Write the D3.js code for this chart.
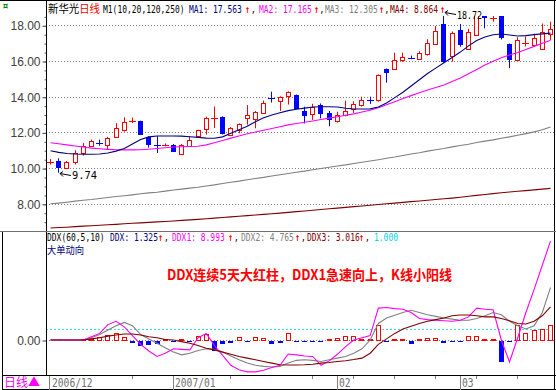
<!DOCTYPE html>
<html lang="zh">
<head>
<meta charset="utf-8">
<title>新华光 日线</title>
<script src="https://cdn.jsdelivr.net/npm/d3@7"></script>
<style>
	body { margin: 0; padding: 0; background: #fff; }
	svg text { font-family: "DejaVu Sans Mono", "Noto Sans CJK SC", monospace; }
	.cjk { font-family: "Noto Sans CJK SC", sans-serif; }
	.num { font-family: "Liberation Sans", Arial, sans-serif; }
</style>
</head>
<body>
<div id="chart"></div>
<script>

// price data, one value per trading day
var open = [10.33,10.40,10.00,10.36,10.85,11.25,11.44,11.25,11.72,12.13,
	12.63,12.64,11.76,11.30,11.29,11.30,10.80,11.25,11.78,12.15,
	12.78,12.88,11.85,12.13,12.80,12.75,13.10,13.98,13.78,14.05,
	14.10,13.22,13.03,13.53,13.07,12.65,12.97,13.30,13.53,13.84,
	13.82,15.55,15.53,16.06,16.22,16.10,16.39,16.99,18.10,16.24,
	17.74,16.70,17.46,18.58,18.38,18.63,16.97,16.06,16.98,16.90,
	16.71,17.51];
var high = [10.50,10.55,10.40,11.00,11.40,11.60,11.60,11.75,12.52,12.85,
	12.83,12.66,11.80,11.80,11.38,11.35,11.35,11.78,12.15,12.88,
	13.45,12.90,12.30,12.50,13.53,13.20,13.78,14.28,14.02,14.30,
	14.12,13.44,13.60,13.62,13.20,13.15,13.78,13.75,14.00,14.00,
	15.25,15.58,16.47,16.47,16.30,16.55,17.22,17.96,18.72,17.65,
	18.07,17.80,18.67,18.62,18.67,18.70,16.98,17.33,17.38,17.53,
	18.10,18.20];
var low = [10.20,9.74,9.95,10.20,10.70,11.20,11.25,11.05,11.70,12.05,
	12.52,11.85,11.15,10.85,11.22,10.90,10.75,11.20,11.70,11.88,
	12.25,11.88,11.80,11.95,12.43,12.23,13.05,13.67,13.20,13.56,
	13.30,12.50,12.70,12.79,12.34,12.55,12.90,13.10,13.45,13.60,
	13.72,14.79,15.50,15.95,16.10,16.05,16.30,16.90,15.90,15.96,
	16.80,16.68,17.40,17.83,18.20,17.20,15.60,16.00,16.82,16.82,
	16.65,17.18];
var close = [10.35,10.00,10.36,10.85,11.25,11.52,11.40,11.67,12.23,12.60,
	12.65,11.86,11.30,11.27,11.31,10.92,11.30,11.57,12.13,12.78,
	12.80,11.90,12.27,12.45,12.97,13.15,13.67,13.94,14.00,14.28,
	13.30,12.95,13.44,13.03,12.70,12.97,13.22,13.60,13.82,13.80,
	15.22,15.35,16.05,16.24,16.18,16.43,17.03,17.70,15.96,17.55,
	16.90,17.64,18.58,18.39,18.40,17.27,16.06,17.20,17.00,17.27,
	17.64,17.78];

// moving averages M1(10,20,120,250)
var ma1 = [10.97,10.88,10.82,10.79,10.78,10.78,10.79,10.85,10.95,11.10,
	11.35,11.60,11.75,11.80,11.80,11.80,11.79,11.76,11.72,11.68,
	11.67,11.75,11.95,12.15,12.35,12.60,12.82,12.98,13.10,13.22,
	13.30,13.36,13.42,13.44,13.44,13.42,13.35,13.31,13.31,13.32,
	13.42,13.65,13.95,14.25,14.60,14.95,15.30,15.60,15.90,16.20,
	16.50,16.85,17.15,17.35,17.47,17.51,17.46,17.40,17.42,17.48,
	17.52,17.563];
var ma2 = [11.42,11.36,11.30,11.24,11.18,11.12,11.08,11.05,11.03,11.02,
	11.02,11.03,11.06,11.10,11.14,11.18,11.20,11.21,11.22,11.30,
	11.42,11.55,11.68,11.80,11.92,12.02,12.12,12.22,12.32,12.42,
	12.50,12.57,12.64,12.72,12.80,12.88,12.96,13.04,13.14,13.24,
	13.38,13.55,13.72,13.90,14.06,14.22,14.38,14.52,14.66,14.85,
	15.05,15.28,15.52,15.78,15.98,16.18,16.34,16.48,16.64,16.82,
	17.00,17.165];
var ma3 = [8.00,8.04,8.09,8.15,8.20,8.24,8.30,8.35,8.41,8.45,
	8.50,8.56,8.61,8.65,8.71,8.77,8.82,8.88,8.93,9.00,
	9.06,9.14,9.21,9.27,9.35,9.42,9.48,9.56,9.63,9.70,
	9.77,9.83,9.91,9.98,10.05,10.12,10.18,10.26,10.33,10.40,
	10.47,10.55,10.62,10.71,10.79,10.86,10.95,11.03,11.10,11.19,
	11.27,11.34,11.43,11.51,11.58,11.67,11.75,11.84,11.93,12.03,
	12.15,12.305];
var ma4 = [6.64,6.67,6.69,6.72,6.75,6.77,6.80,6.83,6.85,6.88,
	6.91,6.93,6.96,6.99,7.01,7.04,7.07,7.10,7.13,7.16,
	7.20,7.23,7.27,7.30,7.34,7.37,7.41,7.44,7.48,7.52,
	7.56,7.60,7.64,7.68,7.72,7.76,7.80,7.84,7.88,7.92,
	7.96,8.00,8.04,8.08,8.12,8.16,8.20,8.24,8.28,8.32,
	8.37,8.42,8.47,8.52,8.57,8.62,8.66,8.70,8.74,8.78,
	8.82,8.864];

// DDX(60,5,10) indicator
var ddx = [0,0,0,0,0.05,0.1,0.25,0.45,0.6,0.3,
	-0.3,-0.55,-0.45,-0.36,0.08,-0.1,0.1,-0.2,0.35,0.55,
	-0.97,-0.35,-0.25,0.25,-0.15,0.25,0.2,-0.35,-0.3,0.65,
	-0.05,-0.05,-0.05,-0.05,0.05,0.2,0.35,0.35,0.05,0.05,
	1.4,-0.05,0.05,0.05,-0.35,0.05,0.2,0.2,-0.25,-0.05,
	-0.05,0.4,0.4,0.05,0.05,-2.0,-0.05,1.35,0.65,0.95,
	1.0,1.325];
var ddx1 = [0,0,0,0,0,0.3,0.6,1.4,1.7,1.2,
	0.4,-0.4,-1.0,-1.5,-1.2,-0.8,-0.85,-0.9,0.2,0.6,
	-0.5,-1.4,-2.3,-2.7,-2.9,-2.9,-2.75,-2.5,-2.3,-1.27,
	-1.35,-1.45,-1.5,-2.3,-1.9,-1.3,-0.6,0.0,0.2,0.4,
	2.9,2.95,2.85,2.8,2.5,1.95,1.85,1.8,1.75,1.7,
	1.8,2.1,2.9,2.8,2.75,0.0,-2.0,0.2,2.5,4.6,
	6.8,8.993];
var ddx2 = [0,0,0,0,0,0.2,0.5,0.9,1.3,1.6,
	1.3,0.5,0.1,-0.3,-0.7,-1.1,-1.35,-1.2,-0.95,-0.8,
	-0.85,-1.1,-1.45,-1.8,-2.1,-2.3,-2.4,-2.45,-2.4,-2.1,
	-1.85,-1.8,-1.85,-1.95,-1.8,-1.65,-1.5,-1.2,-0.8,0.0,
	1.5,2.0,2.25,2.5,2.7,2.5,2.3,2.15,2.0,1.9,
	1.8,1.8,1.95,2.2,2.5,2.3,1.7,1.3,1.0,1.3,
	2.5,4.765];
var ddx3 = [0,0,0,0,0,0.1,0.2,0.35,0.45,0.55,
	0.55,0.45,0.3,0.2,0.05,0.0,-0.15,-0.3,-0.5,-0.75,
	-0.9,-1.1,-1.3,-1.5,-1.65,-1.8,-1.95,-2.1,-2.25,-2.27,
	-2.27,-2.25,-2.2,-2.1,-2.05,-1.95,-1.88,-1.78,-1.65,-1.2,
	-0.4,0.1,0.6,1.0,1.25,1.5,1.7,1.85,2.0,2.2,
	2.27,2.27,2.2,2.1,2.1,1.95,1.75,1.5,1.45,1.7,
	2.2,3.016];
var ddxLevel = 1.0;

// axis
var priceTicks = [8, 10, 12, 14, 16, 18];
var monthLabels = ["2006/12", "2007/01", "02", "03"];
var monthStart = [0, 15, 35, 50];
var weekTicks = [10, 22, 32, 37, 42, 47, 52, 57];
var highIdx = 48, lowIdx = 1;

// colours
var cUp = "#ff0000", cDown = "#0000ff";
var cMa = ["#000080", "#ff00ff", "#808080", "#800000"];
var cDdx = ["#000080", "#ff00ff", "#808080", "#800000"];

var W = 556, H = 390;
var axisX = 46;

var svg = d3.select("#chart").append("svg")
	.attr("width", W).attr("height", H);
svg.append("rect").attr("width", W).attr("height", H).attr("fill", "#fff");

var idx = d3.range(open.length);
var x = d3.scaleLinear().domain([0, open.length - 1]).range([50, 550]);
var yTop = d3.scaleLinear().domain([8, 18]).range([203.8, 25.3]);
var yBot = d3.scaleLinear().domain([0, 1]).range([340, 329]);
var cx = function (i) { return Math.round(x(i)); };

var defs = svg.append("defs");
defs.append("clipPath").attr("id", "clipTop").append("rect")
	.attr("x", axisX + 1).attr("y", 16).attr("width", W - axisX - 3).attr("height", 215);
defs.append("clipPath").attr("id", "clipBot").append("rect")
	.attr("x", axisX + 1).attr("y", 233).attr("width", W - axisX - 3).attr("height", 142);

// grid lines
svg.append("g").selectAll("line").data(priceTicks).join("line")
	.attr("x1", axisX).attr("x2", W - 2)
	.attr("y1", function (d) { return Math.round(yTop(d)) + 0.5; })
	.attr("y2", function (d) { return Math.round(yTop(d)) + 0.5; })
	.attr("stroke", "#808080").attr("stroke-dasharray", "1,2");
svg.append("line")
	.attr("x1", axisX).attr("x2", W - 2)
	.attr("y1", Math.round(yBot(0)) + 0.5).attr("y2", Math.round(yBot(0)) + 0.5)
	.attr("stroke", "#808080").attr("stroke-dasharray", "1,2");
svg.append("line")
	.attr("x1", axisX).attr("x2", W - 2)
	.attr("y1", Math.round(yBot(ddxLevel)) + 0.5).attr("y2", Math.round(yBot(ddxLevel)) + 0.5)
	.attr("stroke", "#30e0e0").attr("stroke-dasharray", "2,2");

// left axes
var axTop = svg.append("g").attr("class", "num")
	.attr("transform", "translate(" + (axisX + 0.5) + ",0.5)")
	.call(d3.axisLeft(yTop).tickValues(priceTicks).tickSize(4).tickPadding(2)
		.tickFormat(d3.format(".2f")));
svg.append("g").attr("transform", "translate(" + (axisX + 0.5) + ",0.5)")
	.call(d3.axisLeft(yTop).tickValues(d3.range(6.5, 18.6, 0.5)).tickSize(2).tickFormat(""))
	.call(function (g) { g.select(".domain").remove(); g.selectAll("line").attr("stroke", "#606060"); });
var axBot = svg.append("g").attr("class", "num")
	.attr("transform", "translate(" + (axisX + 0.5) + ",0.5)")
	.call(d3.axisLeft(yBot).tickValues([0]).tickSize(4).tickPadding(2)
		.tickFormat(d3.format(".2f")));
[axTop, axBot].forEach(function (g) {
	g.select(".domain").remove();
	g.selectAll("text").attr("fill", "#404040").style("font-size", "12px")
		.style("font-family", "'Liberation Sans', Arial, sans-serif");
	g.selectAll("line").attr("stroke", "#404040");
});

// candles
var gc = svg.append("g").attr("clip-path", "url(#clipTop)");
var isUp = function (i) { return close[i] >= open[i]; };
var bodyPx = function (i) { return Math.abs(yTop(open[i]) - yTop(close[i])); };

gc.selectAll("line.wick").data(idx).join("line")
	.attr("class", "wick")
	.attr("x1", function (i) { return cx(i) + 0.5; })
	.attr("x2", function (i) { return cx(i) + 0.5; })
	.attr("y1", function (i) { return yTop(high[i]); })
	.attr("y2", function (i) { return yTop(low[i]); })
	.attr("stroke", function (i) { return isUp(i) ? cUp : cDown; });

gc.selectAll("rect.body").data(idx.filter(function (i) { return bodyPx(i) >= 1.2; })).join("rect")
	.attr("class", "body")
	.attr("x", function (i) { return isUp(i) ? cx(i) - 1.5 : cx(i) - 2; })
	.attr("width", function (i) { return isUp(i) ? 4 : 5; })
	.attr("y", function (i) { return Math.round(yTop(Math.max(open[i], close[i]))) + (isUp(i) ? 0.5 : 0); })
	.attr("height", function (i) { return Math.max(1, Math.round(bodyPx(i))); })
	.attr("fill", function (i) { return isUp(i) ? "#fff" : cDown; })
	.attr("stroke", function (i) { return isUp(i) ? cUp : "none"; });

gc.selectAll("line.doji").data(idx.filter(function (i) { return bodyPx(i) < 1.2; })).join("line")
	.attr("class", "doji")
	.attr("x1", function (i) { return cx(i) - 3; })
	.attr("x2", function (i) { return cx(i) + 4; })
	.attr("y1", function (i) { return Math.round(yTop(close[i])) + 0.5; })
	.attr("y2", function (i) { return Math.round(yTop(close[i])) + 0.5; })
	.attr("stroke", function (i) { return isUp(i) ? cUp : cDown; });

// moving average lines
var maLine = d3.line().x(function (d, i) { return x(i) + 0.5; }).y(function (d) { return yTop(d); });
[ma4, ma3, ma2, ma1].forEach(function (s, k) {
	gc.append("path").datum(s).attr("d", maLine)
		.attr("fill", "none").attr("stroke", cMa[3 - k]).attr("stroke-width", 1.1);
});

// high / low markers
function marker(i, v, dy) {
	var px = cx(i) + 2, py = Math.round(yTop(v)) + 0.5;
	var g = svg.append("g");
	g.append("path")
		.attr("d", "M" + px + "," + py + " L" + (px + 11) + "," + (py + 2))
		.attr("stroke", "#000").attr("fill", "none");
	g.append("path")
		.attr("d", "M" + (px + 3) + "," + (py - 2) + " L" + px + "," + py + " L" + (px + 3) + "," + (py + 3))
		.attr("stroke", "#000").attr("fill", "none");
	g.append("text").attr("x", px + 12).attr("y", py + dy)
		.attr("fill", "#000").style("font-size", "11px")
		.attr("textLength", 25).attr("lengthAdjust", "spacingAndGlyphs")
		.text(d3.format(".2f")(v));
}
marker(highIdx, high[highIdx], 6);
marker(lowIdx, low[lowIdx], 5);

// DDX bars
var gb = svg.append("g").attr("clip-path", "url(#clipBot)");
var y0 = Math.round(yBot(0));
var bars = idx.filter(function (i) { return ddx[i] !== 0; });
gb.selectAll("rect.bar").data(bars).join("rect")
	.attr("class", "bar")
	.attr("x", function (i) { return ddx[i] > 0 ? cx(i) - 1.5 : cx(i) - 2; })
	.attr("width", function (i) { return ddx[i] > 0 ? 4 : 5; })
	.attr("y", function (i) {
		return ddx[i] > 0 ? Math.round(yBot(ddx[i])) + 0.5 : y0 + 1;
	})
	.attr("height", function (i) {
		return Math.max(ddx[i] > 0 ? 0 : 1, Math.round(Math.abs(yBot(ddx[i]) - yBot(0))) - (ddx[i] > 0 ? 0 : 1));
	})
	.attr("fill", function (i) { return ddx[i] > 0 ? "#fff" : cDown; })
	.attr("stroke", function (i) { return ddx[i] > 0 ? cUp : "none"; });

var ddxLine = d3.line().x(function (d, i) { return x(i) + 0.5; }).y(function (d) { return yBot(d); });
[[ddx2, cDdx[2]], [ddx1, cDdx[1]], [ddx3, cDdx[3]]].forEach(function (p) {
	gb.append("path").datum(p[0]).attr("d", ddxLine)
		.attr("fill", "none").attr("stroke", p[1]).attr("stroke-width", 1.1);
});

// frame
var frame = svg.append("g").attr("stroke", "#000").attr("fill", "none");
frame.append("line").attr("x1", 0).attr("x2", W).attr("y1", 0.5).attr("y2", 0.5);
frame.append("line").attr("x1", W - 1.5).attr("x2", W - 1.5).attr("y1", 0).attr("y2", H);
frame.append("line").attr("x1", axisX + 0.5).attr("x2", axisX + 0.5).attr("y1", 0).attr("y2", 376);
frame.append("line").attr("x1", 0).attr("x2", W).attr("y1", 231.5).attr("y2", 231.5).attr("stroke", "#707070");
frame.append("line").attr("x1", 2.5).attr("x2", 2.5).attr("y1", 232).attr("y2", H);
frame.append("line").attr("x1", 2).attr("x2", W).attr("y1", 375.5).attr("y2", 375.5);
frame.append("line").attr("x1", 2).attr("x2", W).attr("y1", H - 0.5).attr("y2", H - 0.5);

// time axis
var gt = svg.append("g");
gt.selectAll("line.wk").data(weekTicks).join("line")
	.attr("x1", function (i) { return cx(i) + 0.5; })
	.attr("x2", function (i) { return cx(i) + 0.5; })
	.attr("y1", 376).attr("y2", 379).attr("stroke", "#808080");
gt.selectAll("line.mo").data(monthStart).join("line")
	.attr("x1", function (i) { return (i === 0 ? cx(i) - 1 : cx(i)) + 0.5; })
	.attr("x2", function (i) { return (i === 0 ? cx(i) - 1 : cx(i)) + 0.5; })
	.attr("y1", 376).attr("y2", H).attr("stroke", "#808080");
gt.selectAll("text").data(monthStart).join("text")
	.attr("x", function (i) { return cx(i) + 2; })
	.attr("y", 387)
	.attr("fill", "#707070").style("font-size", "12px")
	.attr("textLength", function (d, k) { return monthLabels[k].length * 5.8; })
	.attr("lengthAdjust", "spacingAndGlyphs")
	.text(function (d, k) { return monthLabels[k]; });

svg.append("text").attr("class", "cjk").attr("x", 4).attr("y", 387)
	.attr("fill", "#ff00ff").style("font-size", "12px").text("日线▲");

// header line: one text element, horizontally squeezed, tspans at [text, colour, x]
function headerLine(list, x0, y, size, sx) {
	var t = svg.append("text")
		.attr("transform", "translate(" + x0 + "," + y + ") scale(" + sx + ",1)")
		.style("font-size", size + "px");
	list.forEach(function (r) {
		var s = t.append("tspan").attr("x", (r[2] - x0) / sx).attr("fill", r[1]).text(r[0]);
		if (r[0] === "↑") s.style("font-weight", "bold");
	});
}
var f3 = d3.format(".3f");
var last = open.length - 1;

svg.append("text").attr("x", 2).attr("y", 10).attr("fill", "#008000")
	.style("font-size", "11px").style("font-weight", "bold").text("¤");
var ttl = svg.append("text").attr("class", "cjk").attr("x", 48).attr("y", 13)
	.style("font-size", "11px").attr("textLength", 52).attr("lengthAdjust", "spacingAndGlyphs");
ttl.append("tspan").attr("fill", "#000").text("新华光");
ttl.append("tspan").attr("fill", "#ff0000").text("日线");

headerLine([
	["M1(10,20,120,250)", "#000", 103],
	["MA1: " + f3(ma1[last]), cMa[0], 189],
	["↑", "#ff0000", 245], [",", "#000", 251],
	["MA2: " + f3(ma2[last]), cMa[1], 259],
	["↑", "#ff0000", 314], [",", "#000", 319.5],
	["MA3: " + f3(ma3[last]), cMa[2], 325],
	["↑", "#ff0000", 379], [",", "#000", 384.5],
	["MA4: " + f3(ma4[last]), cMa[3], 390],
	["↑", "#ff0000", 440]
], 103, 12.5, 10.5, 0.76);

headerLine([
	["DDX(60,5,10)", "#000", 47],
	["DDX: " + f3(ddx[last]), cDdx[0], 110],
	["↑", "#ff0000", 158], [",", "#000", 164],
	["DDX1: " + f3(ddx1[last]), cDdx[1], 172],
	["↑", "#ff0000", 228], [",", "#000", 234],
	["DDX2: " + f3(ddx2[last]), cDdx[2], 241],
	["↑", "#ff0000", 295], [",", "#000", 301],
	["DDX3: " + f3(ddx3[last]), cDdx[3], 307],
	["↑", "#ff0000", 359], [",", "#000", 365],
	[f3(ddxLevel), "#00d8e0", 374]
], 47, 240.5, 10.5, 0.76);

svg.append("text").attr("class", "cjk").attr("x", 47).attr("y", 254)
	.style("font-size", "10px").attr("fill", "#000080")
	.attr("textLength", 37).attr("lengthAdjust", "spacingAndGlyphs").text("大单动向");

svg.append("text").attr("class", "cjk").attr("x", 167).attr("y", 280)
	.style("font-size", "14px").style("font-weight", "bold").attr("fill", "#ff0000")
	.attr("textLength", 285).attr("lengthAdjust", "spacingAndGlyphs")
	.text("DDX连续5天大红柱，DDX1急速向上，K线小阳线");

</script>
</body>
</html>
